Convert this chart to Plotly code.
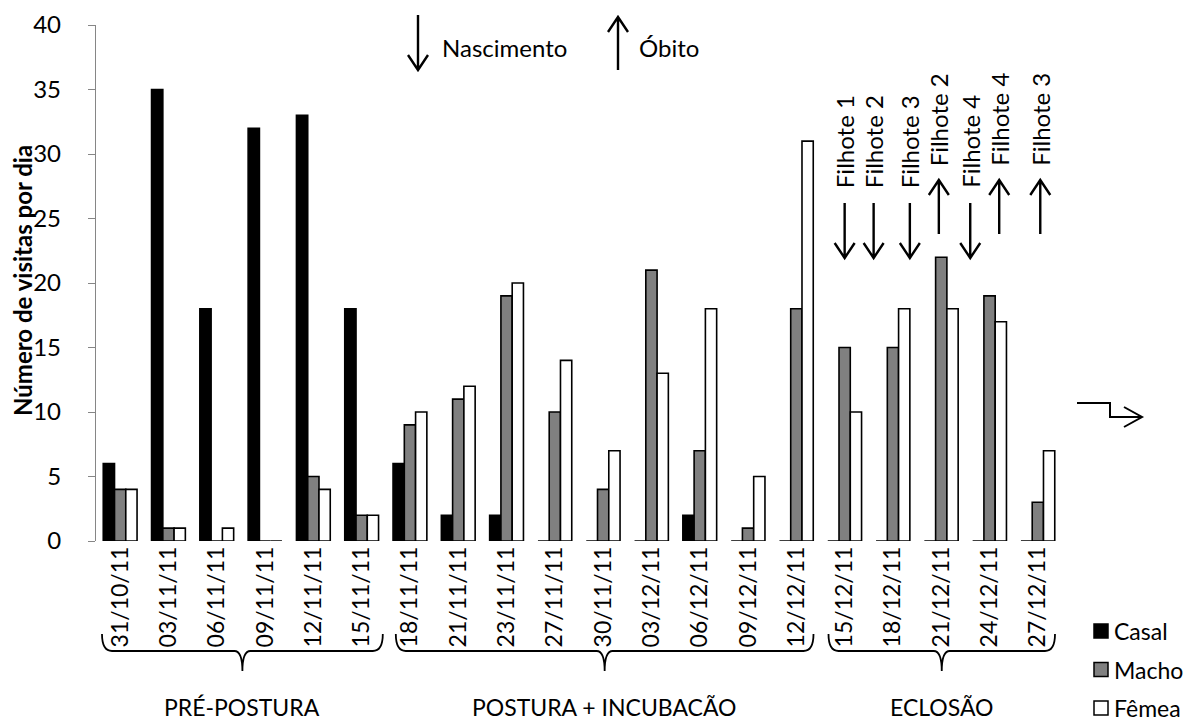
import plotly.graph_objects as go

# Visit counts per sampling day
dates = ["31/10/11", "03/11/11", "06/11/11", "09/11/11", "12/11/11", "15/11/11",
         "18/11/11", "21/11/11", "23/11/11", "27/11/11", "30/11/11", "03/12/11",
         "06/12/11", "09/12/11", "12/12/11", "15/12/11", "18/12/11", "21/12/11",
         "24/12/11", "27/12/11"]
casal = [6, 35, 18, 32, 33, 18, 6, 2, 2, 0, 0, 0, 2, 0, 0, 0, 0, 0, 0, 0]
macho = [4, 1, 0, 0, 5, 2, 9, 11, 19, 10, 4, 21, 7, 1, 18, 15, 15, 22, 19, 3]
femea = [4, 1, 1, 0, 4, 2, 10, 12, 20, 14, 7, 13, 18, 5, 31, 10, 18, 18, 17, 7]

series_names = ["Casal", "Macho", "Fêmea"]
series_colors = ["#000000", "#808080", "#ffffff"]

# Breeding phases: (label, first date, last date)
phases = [("PRÉ-POSTURA", "31/10/11", "15/11/11"),
          ("POSTURA + INCUBACÃO", "18/11/11", "12/12/11"),
          ("ECLOSÃO", "15/12/11", "27/12/11")]

# Chick events: (label, category position, kind) — kind "n" = birth, "o" = death
events = [("Filhote 1", 15.0, "n"), ("Filhote 2", 15.6, "n"), ("Filhote 3", 16.35, "n"),
          ("Filhote 2", 16.95, "o"), ("Filhote 4", 17.6, "n"), ("Filhote 4", 18.2, "o"),
          ("Filhote 3", 19.05, "o")]

FONT = "Lato, 'Open Sans', sans-serif"
W, H = 1191, 721
L, R, T, B = 96, 1062, 25, 541
YMAX = 40


def px(x):
    return (x - L) / (R - L)


def py(y):
    return (B - y) / (B - T)


def cat_px(i):
    step = (R - L) / len(dates)
    return L + step * (i + 0.5)


fig = go.Figure()
for name, vals, col in zip(series_names, [casal, macho, femea], series_colors):
    fig.add_trace(go.Bar(
        x=dates, y=vals, name=name, showlegend=False,
        marker=dict(color=col, line=dict(color="black", width=1.6)),
    ))

shapes = []
annotations = []
LINE = dict(color="black", width=2.4)


def arrow_path(x, y_tail, y_tip, half=10, head=15):
    d = 1 if y_tip > y_tail else -1
    return (f"M {px(x)},{py(y_tail)} L {px(x)},{py(y_tip)} "
            f"M {px(x - half)},{py(y_tip - d * head)} L {px(x)},{py(y_tip)} "
            f"L {px(x + half)},{py(y_tip - d * head)}")


def text(x, y, s, size=24, xanchor="left", angle=0, yanchor="middle"):
    annotations.append(dict(x=px(x), y=py(y), xref="paper", yref="paper",
                            text=s, textangle=angle, showarrow=False,
                            xanchor=xanchor, yanchor=yanchor,
                            font=dict(family=FONT, size=size, color="black")))


# Birth / death markers above the hatching period
for label, pos, kind in events:
    x = cat_px(pos)
    if kind == "n":
        shapes.append(dict(type="path", xref="paper", yref="paper",
                           path=arrow_path(x, 203, 258), line=LINE))
        bottom = 190
    else:
        shapes.append(dict(type="path", xref="paper", yref="paper",
                           path=arrow_path(x, 234, 180), line=LINE))
        bottom = 168
    text(x, bottom, label, xanchor="center", angle=-90, yanchor="bottom")

# Key for the arrows at the top
shapes.append(dict(type="path", xref="paper", yref="paper",
                   path=arrow_path(418, 15, 70), line=LINE))
shapes.append(dict(type="path", xref="paper", yref="paper",
                   path=arrow_path(618, 70, 17), line=LINE))
text(440, 48, "Nascimento")
text(637, 48, "Óbito")

# Bent arrow on the right
shapes.append(dict(type="path", xref="paper", yref="paper",
                   path=(f"M {px(1077)},{py(403)} L {px(1110)},{py(403)} "
                         f"L {px(1110)},{py(417)} L {px(1142)},{py(417)} "
                         f"M {px(1124)},{py(407)} L {px(1142)},{py(417)} "
                         f"L {px(1124)},{py(427)}"),
                   line=dict(color="black", width=2)))

# Curly braces grouping the dates into phases
TOP, MID, TIP = 634, 651, 671
step = (R - L) / len(dates)
brace_pad = {"PRÉ-POSTURA": (6, 3), "POSTURA + INCUBACÃO": (10, 7), "ECLOSÃO": (8, 7)}
for label, d0, d1 in phases:
    i0, i1 = dates.index(d0), dates.index(d1)
    pl, pr = brace_pad[label]
    x0 = cat_px(i0) - step / 2 + pl
    x1 = cat_px(i1) + step / 2 - pr
    cx = (x0 + x1) / 2
    path = (f"M {px(x0)},{py(TOP)} Q {px(x0)},{py(MID)} {px(x0 + 10)},{py(MID)} "
            f"L {px(cx - 8)},{py(MID)} Q {px(cx)},{py(MID)} {px(cx)},{py(TIP)} "
            f"Q {px(cx)},{py(MID)} {px(cx + 8)},{py(MID)} "
            f"L {px(x1 - 10)},{py(MID)} Q {px(x1)},{py(MID)} {px(x1)},{py(TOP)}")
    shapes.append(dict(type="path", xref="paper", yref="paper", path=path,
                       line=dict(color="black", width=1.8)))
    text(cx, 707, label, size=23, xanchor="center")

# Series key, bottom right
for k, (name, col) in enumerate(zip(series_names, series_colors)):
    yc = 631 + 38.5 * k
    shapes.append(dict(type="rect", xref="paper", yref="paper",
                       x0=px(1094), x1=px(1108), y0=py(yc - 7), y1=py(yc + 7),
                       fillcolor=col, line=dict(color="black", width=1.5)))
    text(1112, yc, name, size=23)

# Y-axis title
text(22, 281, "<b>Número de visitas por dia</b>", size=24, xanchor="center", angle=-90)

fig.update_layout(
    width=W, height=H,
    margin=dict(l=L, r=W - R, t=T, b=H - B, pad=0),
    paper_bgcolor="white", plot_bgcolor="white",
    barmode="group", bargap=0.3, bargroupgap=0,
    font=dict(family=FONT, size=23, color="black"),
    shapes=shapes, annotations=annotations,
    showlegend=False,
    xaxis=dict(type="category", tickangle=-90, showline=False, ticks="",
               showgrid=False, automargin=False,
               tickfont=dict(family=FONT, size=23, color="black")),
    yaxis=dict(range=[0, YMAX], dtick=5, showgrid=False, zeroline=False,
               showline=True, linecolor="#868686", linewidth=1.3,
               ticks="outside", ticklen=7, tickcolor="#868686", tickwidth=1.3,
               ticklabelstandoff=22, automargin=False,
               tickfont=dict(family=FONT, size=24, color="black")),
)

fig.write_html("out.html")
